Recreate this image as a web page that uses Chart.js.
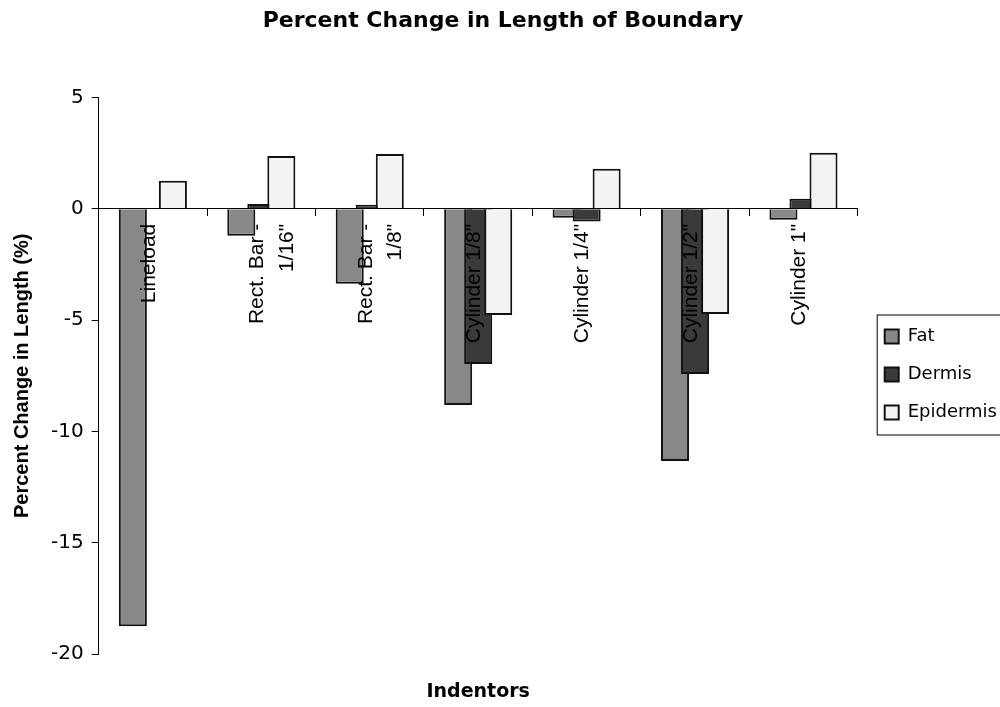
<!DOCTYPE html>
<html>
<head>
<meta charset="utf-8">
<script src="https://cdn.jsdelivr.net/npm/chart.js@4/dist/chart.umd.min.js"></script>
<style>
  html, body { margin: 0; padding: 0; background: #fff; }
  #wrap { width: 1000px; height: 707px; position: relative; }
</style>
</head>
<body>
<div id="wrap"><canvas id="boundaryChart"></canvas></div>
<script>
const indentors = ['Lineload', ['Rect. Bar -', '1/16"'], ['Rect. Bar -', '1/8"'], 'Cylinder 1/8"', 'Cylinder 1/4"', 'Cylinder 1/2"', 'Cylinder 1"'];
const fat = [-18.75, -1.21, -3.37, -8.81, -0.4, -11.32, -0.49];
const dermis = [0, 0.21, 0.18, -6.97, -0.57, -7.42, 0.45];
const epidermis = [1.26, 2.37, 2.46, -4.77, 1.8, -4.72, 2.52];
const yTicks = [5, 0, -5, -10, -15, -20];

Chart.defaults.font.family = 'DejaVu Sans';
Chart.defaults.color = '#000';

// later datasets should sit on top of earlier ones where the bars overlap
const drawInOrder = {
    id: 'drawInOrder',
    beforeDatasetsDraw(chart) {
        chart.data.datasets.forEach((d, i) => chart.getDatasetMeta(i).controller.draw());
        return false;
    }
};

// nudge the legend and put a frame round it
const legendFrame = {
    id: 'legendFrame',
    afterLayout(chart) {
        const lg = chart.legend;
        lg.left += 7; lg.right += 7;
        lg.top += 21; lg.bottom += 21;
    },
    afterDraw(chart) {
        const hb = chart.legend.legendHitBoxes;
        if (!hb || !hb.length) return;
        const ctx = chart.ctx;
        const last = hb[hb.length - 1];
        ctx.save();
        ctx.strokeStyle = '#000';
        ctx.lineWidth = 1;
        ctx.strokeRect(hb[0].left - 7.5, hb[0].top - 12.5, 200, last.top - hb[0].top + 44);
        ctx.restore();
    }
};

new Chart(document.getElementById('boundaryChart').getContext('2d'), {
    type: 'bar',
    data: {
        labels: indentors,
        datasets: [{
            label: 'Fat',
            data: fat,
            backgroundColor: '#888',
            borderColor: '#111',
            borderWidth: 2
        }, {
            label: 'Dermis',
            data: dermis,
            backgroundColor: '#3a3a3a',
            borderColor: '#111',
            borderWidth: 2
        }, {
            label: 'Epidermis',
            data: epidermis,
            backgroundColor: '#f3f3f3',
            borderColor: '#111',
            borderWidth: 2
        }]
    },
    options: {
        responsive: true,
        maintainAspectRatio: false,
        animation: false,
        categoryPercentage: 0.554,
        barPercentage: 1.4,
        layout: { padding: { left: 6, top: 0, right: 0, bottom: 0 } },
        plugins: {
            title: {
                display: true,
                text: 'Percent Change in Length of Boundary',
                font: { size: 22, weight: 'bold' },
                color: '#000',
                padding: { top: 8, bottom: 63 }
            },
            subtitle: {
                display: true,
                text: 'Indentors',
                position: 'bottom',
                fullSize: false,
                font: { size: 19, weight: 'bold' },
                color: '#000',
                padding: { top: 26, bottom: 4 }
            },
            legend: {
                position: 'right',
                maxWidth: 144,
                labels: {
                    boxWidth: 14,
                    boxHeight: 14,
                    padding: 20,
                    font: { size: 18 },
                    color: '#000'
                }
            },
            tooltip: { enabled: false }
        },
        scales: {
            x: {
                position: { y: 0 },
                grid: { offset: true, drawOnChartArea: false, tickLength: 7, color: '#000' },
                border: { color: '#000', z: 1 },
                ticks: {
                    minRotation: 90,
                    maxRotation: 90,
                    autoSkip: false,
                    padding: 8,
                    labelOffset: -4,
                    z: 1,
                    color: '#000',
                    font: { family: 'Liberation Sans', size: 21, lineHeight: 1.4 }
                }
            },
            y: {
                min: -20,
                max: 5,
                afterBuildTicks(scale) {
                    scale.ticks = yTicks.map(v => ({ value: v }));
                },
                grid: { drawOnChartArea: false, tickLength: 7, color: '#000' },
                border: { color: '#000' },
                ticks: { padding: 8, color: '#000', font: { size: 20 } },
                title: {
                    display: true,
                    text: 'Percent Change in Length (%)',
                    color: '#000',
                    font: { family: 'Liberation Sans', size: 20, weight: 'bold' },
                    padding: { top: 4, bottom: 9 }
                }
            }
        }
    },
    plugins: [drawInOrder, legendFrame]
});
</script>
</body>
</html>
